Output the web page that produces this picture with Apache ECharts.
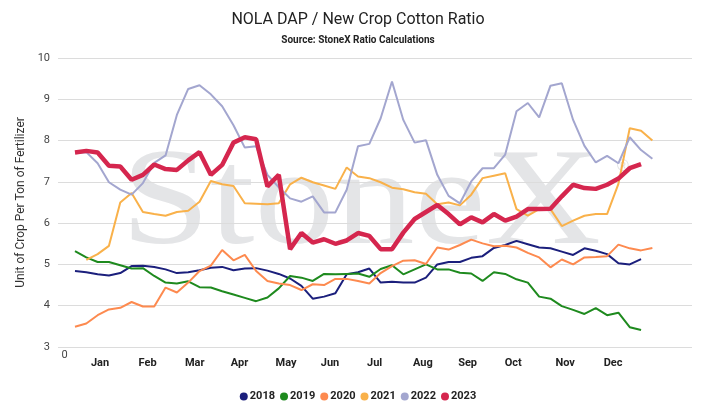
<!DOCTYPE html>
<html><head><meta charset="utf-8">
<script src="https://cdn.jsdelivr.net/npm/echarts@6/dist/echarts.min.js"></script>
<style>html,body{margin:0;padding:0;background:#fff}#c{width:716px;height:412px}</style>
</head><body><div id="c"></div>
<script>
// Week numbers (x values)
const weeks = [1,2,3,4,5,6,7,8,9,10,11,12,13,14,15,16,17,18,19,20,21,22,23,24,25,26,
  27,28,29,30,31,32,33,34,35,36,37,38,39,40,41,42,43,44,45,46,47,48,49,50,51,52];

// X-axis tick labels and where they sit (in week units)
const tickLabels = ['0','Jan','Feb','Mar','Apr','May','Jun','Jul','Aug','Sep','Oct','Nov','Dec'];
const tickValues = [0, 3.21, 7.41, 11.58, 15.53, 19.64, 23.53, 27.47, 31.72, 35.68, 39.71, 44.3, 48.53];

const years = ['2018','2019','2020','2021','2022','2023'];

const y2018 = [4.84,4.81,4.76,4.73,4.79,4.96,4.97,4.94,4.88,4.79,
  4.81,4.86,4.92,4.94,4.86,4.9,4.91,4.85,4.77,4.66,
  4.48,4.17,4.22,4.3,4.76,4.81,4.9,4.56,4.58,4.56,
  4.56,4.68,5.0,5.06,5.06,5.16,5.2,5.4,5.47,5.57,
  5.49,5.41,5.39,5.31,5.23,5.39,5.33,5.25,5.03,5.0,5.13];

const y2019 = [5.32,5.17,5.06,5.06,4.98,4.9,4.91,4.72,4.56,4.54,
  4.59,4.45,4.44,4.35,4.27,4.19,4.11,4.2,4.42,4.72,
  4.68,4.6,4.77,4.76,4.77,4.78,4.7,4.89,4.98,4.76,
  4.88,5.0,4.88,4.88,4.8,4.78,4.6,4.81,4.77,4.64,
  4.56,4.22,4.17,3.99,3.9,3.8,3.94,3.77,3.83,3.48,3.41];

const y2020 = [3.49,3.57,3.77,3.91,3.95,4.09,3.98,3.98,4.44,4.32,
  4.56,4.84,4.97,5.35,5.1,5.23,4.84,4.6,4.54,4.5,
  4.38,4.52,4.5,4.65,4.65,4.6,4.54,4.79,4.96,5.09,
  5.1,5.01,5.41,5.36,5.47,5.6,5.51,5.44,5.45,5.41,
  5.28,5.17,4.93,5.12,5.0,5.17,5.18,5.2,5.48,5.39,5.34,5.4];

const y2021 = [null,5.11,5.25,5.45,6.5,6.73,6.27,6.22,6.18,6.27,
  6.3,6.52,7.02,6.94,6.9,6.48,6.47,6.46,6.48,6.94,
  7.1,6.99,6.91,6.83,7.35,7.13,7.09,6.99,6.86,6.82,
  6.75,6.71,6.46,6.5,6.43,6.69,7.09,7.15,7.21,6.34,
  6.18,6.34,6.34,5.93,6.06,6.18,6.22,6.22,6.95,8.3,8.24,8.0];

const y2022 = [7.7,7.72,7.45,6.99,6.81,6.69,6.97,7.46,7.64,8.62,
  9.25,9.34,9.12,8.83,8.37,7.83,7.86,7.17,6.87,6.6,
  6.52,6.65,6.26,6.26,6.81,7.86,7.92,8.54,9.43,8.5,
  7.95,8.01,7.17,6.66,6.48,7.01,7.33,7.33,7.66,8.71,
  8.91,8.56,9.33,9.39,8.5,7.87,7.47,7.63,7.45,8.08,7.77,7.56];

const y2023 = [7.71,7.75,7.71,7.39,7.37,7.05,7.17,7.42,7.31,7.29,
  7.52,7.72,7.17,7.41,7.95,8.08,8.03,6.89,7.17,5.37,
  5.76,5.53,5.61,5.5,5.58,5.76,5.69,5.37,5.37,5.77,
  6.1,6.27,6.44,6.22,5.97,6.14,6.02,6.22,6.06,6.16,
  6.34,6.34,6.35,6.65,6.93,6.85,6.83,6.93,7.08,7.33,7.43];

const values = [y2018, y2019, y2020, y2021, y2022, y2023];
const colors = ['#1b1f7c','#1e8a1e','#fd8a4f','#f9b14a','#a3a6cf','#d5264e'];
const widths = [2,2,2,2,2,4.5];

const FONT = 'Roboto';
const chart = echarts.init(document.getElementById('c'), null, {renderer:'canvas'});

chart.setOption({
  animation: false,
  backgroundColor: '#ffffff',
  title: {
    text: 'NOLA DAP / New Crop Cotton Ratio',
    subtext: 'Source: StoneX Ratio Calculations',
    left: 'center', top: 12, padding: 0, itemGap: 7,
    textStyle: {fontFamily: FONT, fontSize: 16, fontWeight: 'normal', color: '#222'},
    subtextStyle: {fontFamily: FONT, fontSize: 10, fontWeight: 'bold', color: '#222'}
  },
  graphic: [
    {type: 'text', z: 0, silent: true, x: 121, y: 207, scaleY: 0.86,
      style: {text: 'StoneX', font: 'normal 160px "Liberation Serif"', fill: '#e4e5e7', verticalAlign: 'middle'}},
    {type: 'text', z: 0, silent: true, x: 617, y: 167,
      style: {text: '\u00AE', font: 'normal 16px "Liberation Sans"', fill: '#e0e1e3', verticalAlign: 'middle'}}
  ],
  legend: {
    data: years, top: 386, left: 'center',
    icon: 'circle', itemWidth: 8, itemHeight: 8, itemGap: 5,
    textStyle: {fontFamily: FONT, fontSize: 11, fontWeight: 'bold', color: '#222', padding: [0,0,0,-3]}
  },
  grid: {left: 58, right: 24, top: 58, bottom: 65, containLabel: false},
  xAxis: {
    type: 'value', min: -0.5, max: 55.5,
    axisLine: {show: false}, axisTick: {show: false}, splitLine: {show: false},
    axisLabel: {
      customValues: tickValues,
      margin: 3,
      formatter: function (v) {
        let k = 0, best = 1e9;
        for (let j = 0; j < tickValues.length; j++) {
          const d = Math.abs(tickValues[j] - v);
          if (d < best) { best = d; k = j; }
        }
        return k === 0 ? '{z|' + tickLabels[k] + '}' : '{m|' + tickLabels[k] + '}';
      },
      rich: {
        z: {fontFamily: FONT, fontSize: 11, color: '#444', padding: [0,0,0,2]},
        m: {fontFamily: FONT, fontSize: 11, fontWeight: 'bold', color: '#222', padding: [8,0,0,0]}
      }
    }
  },
  yAxis: {
    type: 'value', min: 3, max: 10, interval: 1,
    name: 'Unit of Crop Per Ton of Fertilizer', nameLocation: 'middle', nameGap: 27,
    nameTextStyle: {fontFamily: FONT, fontSize: 12, color: '#333'},
    axisLine: {show: false}, axisTick: {show: false},
    axisLabel: {fontFamily: FONT, fontSize: 11, color: '#444', margin: 8},
    splitLine: {lineStyle: {color: '#dcdcdc', width: 1}}
  },
  series: years.map(function (y, s) {
    return {
      name: y, type: 'line', showSymbol: false, symbol: 'circle', symbolSize: 6,
      z: s === 5 ? 4 : 3,
      color: colors[s],
      lineStyle: {width: widths[s], color: colors[s]},
      data: values[s].map(function (v, i) { return [weeks[i], v]; })
    };
  })
});
</script></body></html>
